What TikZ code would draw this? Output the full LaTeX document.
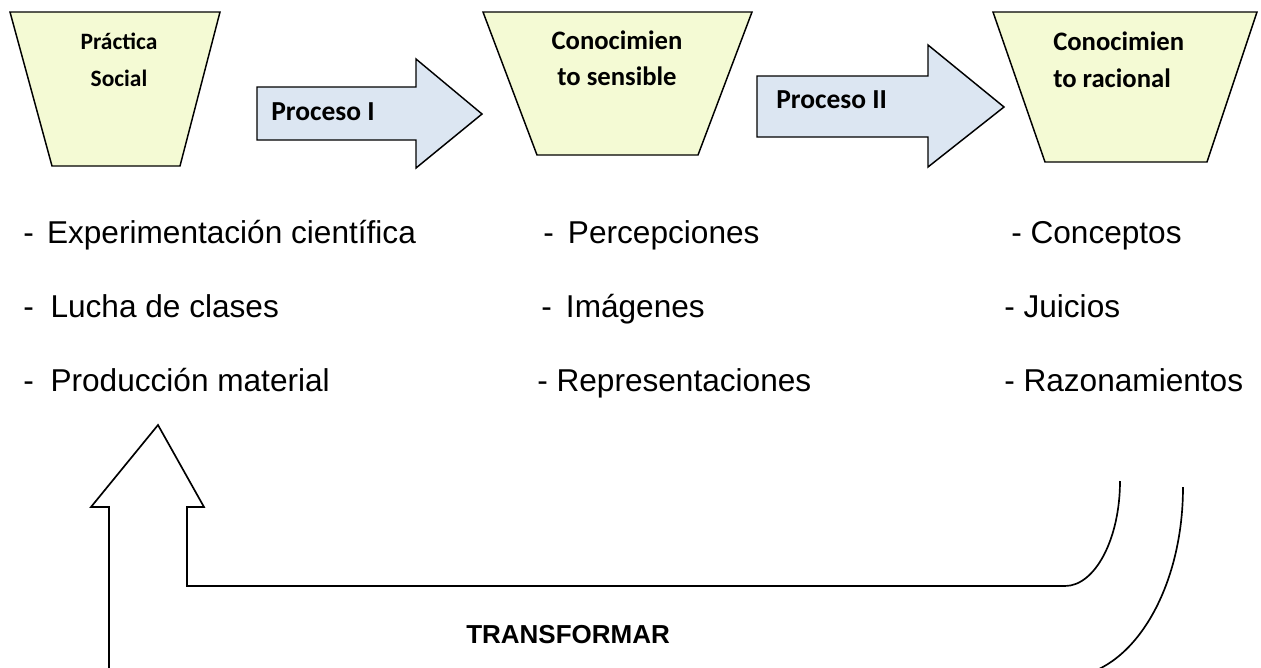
\documentclass[tikz,border=0pt]{standalone}
\usepackage{fontspec}
\setmainfont{Liberation Sans}
\newfontfamily\calibri{Carlito}
\definecolor{trapfill}{RGB}{244,250,212}
\definecolor{arrowfill}{RGB}{220,230,242}
\begin{document}
\begin{tikzpicture}[x=0.75pt,y=-0.75pt,
  trap/.style={draw=black,line width=1.1pt,fill=trapfill,line join=miter},
  barrow/.style={draw=black,line width=1.1pt,fill=arrowfill,line join=miter},
  lblA/.style={inner sep=0,font=\calibri\bfseries\fontsize{17.6pt}{21pt}\selectfont},
  lblB/.style={inner sep=0,font=\calibri\bfseries\fontsize{20pt}{24pt}\selectfont},
  lblP/.style={inner sep=0,anchor=base west,font=\calibri\bfseries\fontsize{20.6pt}{24pt}\selectfont},
  item/.style={inner sep=0,anchor=base west,font=\fontsize{23.7pt}{28pt}\selectfont},
  uturn/.style={draw=black,line width=1.25pt,line join=miter}]
\fill[white] (0,0) rectangle (1261,668);
\clip (0,0) rectangle (1261,668);
% trapezoids
\draw[trap] (10,12) -- (220,12) -- (180,166) -- (52,166) -- cycle;
\draw[trap] (483,12) -- (752,12) -- (698,155) -- (537,155) -- cycle;
\draw[trap] (993,12) -- (1257,12) -- (1207,162) -- (1045,162) -- cycle;
\node[lblA,anchor=base] (t1a) at (119,49) {Práctica};
\node[lblA,anchor=base] (t1b) at (119,86) {Social};
\node[lblB,anchor=base] (t2a) at (617,49) {Conocimien};
\node[lblB,anchor=base] (t2b) at (617,85) {to sensible};
\node[lblB,anchor=base west] (t3a) at (1053,50) {Conocimien};
\node[lblB,anchor=base west] (t3b) at (1053,87) {to racional};
% block arrows
\draw[barrow] (257,87) -- (416,87) -- (416,59) -- (482,114) -- (416,168) -- (416,140) -- (257,140) -- cycle;
\draw[barrow] (757,76) -- (928,76) -- (928,45) -- (1004,107) -- (928,167) -- (928,137) -- (757,137) -- cycle;
\node[lblP] (p1) at (271,120) {Proceso I};
\node[lblP] (p2) at (776,108) {Proceso II};
% lists
\node[item] (a1) at (23,243) {-\hspace{0.42em}Experimentación científica};
\node[item] (a2) at (23,317) {-\hspace{0.53em}Lucha de clases};
\node[item] (a3) at (23,391) {-\hspace{0.53em}Producción material};
\node[item] (b1) at (543,243) {-\hspace{0.45em}Percepciones};
\node[item] (b2) at (541,317) {-\hspace{0.45em}Imágenes};
\node[item] (b3) at (537,391) {- Representaciones};
\node[item] (c1) at (1011,243) {- Conceptos};
\node[item] (c2) at (1004,317) {- Juicios};
\node[item] (c3) at (1004,391) {- Razonamientos};
% U-turn arrow
\draw[uturn] (1183,487) .. controls (1183,592) and (1130,677) .. (1065,677)
  -- (109,677) -- (109,507) -- (91,507) -- (158,425) -- (204,507) -- (187,507)
  -- (187,586) -- (1065,586) .. controls (1095,586) and (1120,539) .. (1120,481);
\node[inner sep=0,anchor=base west,font=\bfseries\fontsize{19.5pt}{23pt}\selectfont] (tr) at (466,643) {TRANSFORMAR};
\end{tikzpicture}
\end{document}
